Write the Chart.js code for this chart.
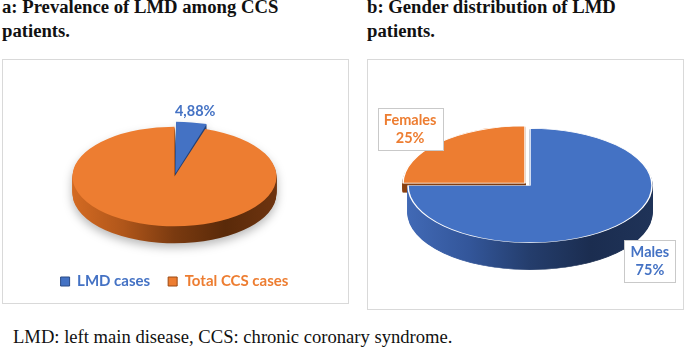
<!DOCTYPE html>
<html><head><meta charset="utf-8">
<script src="https://cdn.jsdelivr.net/npm/chart.js@4.4.1/dist/chart.umd.min.js"></script>
<style>
html,body{margin:0;padding:0;background:#fff;}
body{width:685px;height:348px;position:relative;overflow:hidden;font-family:"Liberation Serif","Times New Roman",serif;}
.title{position:absolute;font-weight:bold;font-size:18.7px;line-height:24px;color:#111;white-space:nowrap;}
.box{position:absolute;border:1px solid #d9d9d9;box-sizing:border-box;}
canvas{position:absolute;}
.foot{position:absolute;left:13px;top:327px;font-size:18.6px;line-height:20px;color:#111;white-space:nowrap;}
</style></head>
<body>
<div class="title" style="left:2px;top:-5px;">a: Prevalence of LMD among CCS<br>patients.</div>
<div class="title" style="left:367px;top:-5px;">b: Gender distribution of LMD<br>patients.</div>
<div class="box" style="left:2px;top:59px;width:347px;height:245px;"></div>
<div class="box" style="left:367px;top:59px;width:317px;height:251px;"></div>
<canvas id="ca" width="345" height="243" style="left:3px;top:60px;"></canvas>
<canvas id="cb" width="315" height="249" style="left:368px;top:60px;"></canvas>
<div class="foot">LMD: left main disease, CCS: chronic coronary syndrome.</div>
<script>
// ---- data ----
const catsA = ['LMD cases', 'Total CCS cases'];
const valsA = [4.88, 95.12];
const labelsA = [['4,88%'], null];
const catsB = ['Males', 'Females'];
const valsB = [75, 25];
const labelsB = [['Males', '75%'], ['Females', '25%']];

const BLUE = '#4472C4', ORANGE = '#ED7D31';

const pie3d = {
  id: 'pie3d',
  beforeDatasetsDraw(chart, args, opts) {
    const arcs = chart.getDatasetMeta(0).data;
    if (!arcs.length) return;
    const ctx = chart.ctx;
    const cx = arcs[0].x, cy = arcs[0].y, R = arcs[0].outerRadius;
    const k = opts.k;
    const w = chart.canvas.width, h = chart.canvas.height;
    const order = arcs.map((a, i) => i).sort((i, j) =>
      Math.sin((arcs[i].startAngle + arcs[i].endAngle) / 2) - Math.sin((arcs[j].startAngle + arcs[j].endAngle) / 2));
    order.forEach(i => {
      const el = arcs[i];
      const depth = opts.depths[i];
      const off = document.createElement('canvas');
      off.width = w; off.height = h;
      const o = off.getContext('2d');
      for (let d = depth; d >= 1; d--) {
        o.save();
        o.translate(0, d);
        o.translate(cx, cy); o.scale(1, k); o.translate(-cx, -cy);
        el.draw(o);
        o.restore();
      }
      o.globalCompositeOperation = 'source-atop';
      const g = o.createLinearGradient(cx - R, 0, cx + R, 0);
      const stops = opts.side[i];
      stops.forEach((c, n) => g.addColorStop(n / (stops.length - 1), c));
      o.fillStyle = g;
      o.fillRect(0, 0, w, h);
      ctx.save();
      if (opts.shadow) { ctx.shadowColor = opts.shadow; ctx.shadowBlur = 10; ctx.shadowOffsetY = 4; }
      ctx.drawImage(off, 0, 0, chart.width, chart.height);
      ctx.restore();
    });
    ctx.save();
    ctx.translate(cx, cy); ctx.scale(1, k); ctx.translate(-cx, -cy);
  },
  afterDatasetsDraw(chart, args, opts) {
    const arcs = chart.getDatasetMeta(0).data;
    if (!arcs.length) return;
    const ctx = chart.ctx;
    ctx.restore();
    const cx = arcs[0].x, cy = arcs[0].y, R = arcs[0].outerRadius;
    const k = opts.k, depth = Math.max(...opts.depths);
    ctx.save();
    ctx.font = opts.font;
    ctx.textAlign = 'center';
    ctx.textBaseline = 'middle';
    arcs.forEach((el, i) => {
      const lines = opts.labels[i];
      if (!lines) return;
      const mid = (el.startAngle + el.endAngle) / 2;
      const r = R * opts.labelR;
      const s = Math.sin(mid);
      const x = cx + Math.cos(mid) * r;
      const y = cy + s * r * k + (s > 0 ? depth * s : 0);
      const lh = opts.lineHeight;
      const tw = Math.max(...lines.map(t => ctx.measureText(t).width));
      const th = lh * lines.length;
      if (opts.boxed) {
        const bw = Math.round(tw + 12), bh = Math.round(th + 6);
        const bx = Math.round(x - bw / 2) + 0.5, by = Math.round(y - bh / 2) + 0.5;
        ctx.fillStyle = '#ffffff';
        ctx.strokeStyle = '#c9c9c9';
        ctx.lineWidth = 1;
        ctx.fillRect(bx, by, bw, bh);
        ctx.strokeRect(bx, by, bw, bh);
      }
      ctx.fillStyle = opts.colors[i];
      lines.forEach((t, n) => ctx.fillText(t, x, y - th / 2 + lh * (n + 0.5)));
    });
    ctx.restore();
  }
};

const colorsA = [BLUE, ORANGE];
const darkA = ['#2a4a85', '#9c4a12'];

new Chart(document.getElementById('ca'), {
  type: 'pie',
  data: {
    labels: catsA,
    datasets: [{
      data: valsA,
      backgroundColor: colorsA,
      borderWidth: 0,
      offset: [24, 0],
      radius: 102,
      clip: false
    }]
  },
  options: {
    responsive: false,
    animation: false,
    events: [],
    layout: { padding: { top: 37, bottom: 4, right: 2 } },
    plugins: {
      tooltip: { enabled: false },
      legend: {
        display: true,
        position: 'bottom',
        labels: {
          boxWidth: 9, boxHeight: 9, padding: 18,
          font: { family: 'Lato', size: 15, weight: 'bold' },
          generateLabels(chart) {
            return chart.data.labels.map((t, i) => ({
              text: t, fillStyle: colorsA[i], strokeStyle: darkA[i], lineWidth: 1,
              fontColor: colorsA[i], hidden: false, index: i
            }));
          }
        }
      },
      pie3d: {
        k: 0.488, depths: [17, 17], shadow: 'rgba(0,0,0,0.28)',
        side: [['#3c66b0', '#2a4a85', '#1d3360'], ['#d36a22', '#b0561a', '#7a3a10', '#5a2a09', '#6e3410']],
        labels: labelsA, colors: colorsA, labelR: 1.33,
        font: 'bold 14.5px Lato', lineHeight: 17, boxed: false
      }
    }
  },
  plugins: [pie3d]
});

const colorsB = [BLUE, ORANGE];
new Chart(document.getElementById('cb'), {
  type: 'pie',
  data: {
    labels: catsB,
    datasets: [{
      data: valsB,
      backgroundColor: colorsB,
      borderColor: '#ffffff',
      borderWidth: 1.5,
      offset: [0, 28],
      radius: 122,
      clip: false
    }]
  },
  options: {
    responsive: false,
    animation: false,
    events: [],
    layout: { padding: { top: 2, left: 9 } },
    plugins: {
      tooltip: { enabled: false },
      legend: { display: false },
      pie3d: {
        k: 0.469, depths: [27, 9], shadow: null,
        side: [['#4169b5', '#33569a', '#243d6c', '#1b2d50', '#1f3358'], ['#8a4010', '#6a300c']],
        labels: labelsB, colors: colorsB, labelR: 1.39,
        font: 'bold 14.5px Lato', lineHeight: 18, boxed: true
      }
    }
  },
  plugins: [pie3d]
});
</script>
</body></html>
